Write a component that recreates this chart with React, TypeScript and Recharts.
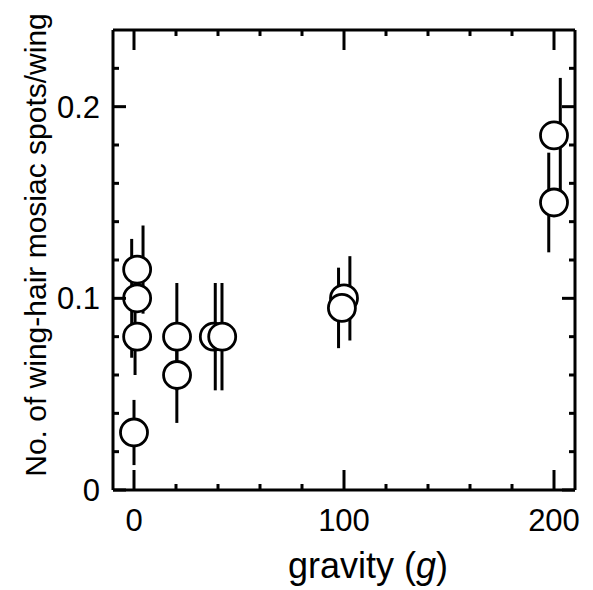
import React from "react";
import { ScatterChart, Scatter, XAxis, YAxis, ErrorBar } from "recharts";

// circles (gravity in g, spots per wing)
const gravity = [0, 1.5, 1.5, 1.5, 20.5, 20.5, 38, 42, 100, 99, 200, 200];
const spots = [0.03, 0.115, 0.1, 0.08, 0.06, 0.08, 0.08, 0.08, 0.1, 0.095, 0.15, 0.185];

// error bars, drawn slightly offset like in the figure
const barX = [0, 4.3, -1.1, 0.5, 20.4, 20.4, 38.7, 41.9, 102.8, 97.4, 197.5, 203];
const barY = [0.03, 0.115, 0.1, 0.08, 0.06, 0.08, 0.08, 0.08, 0.1, 0.095, 0.15, 0.185];
const barErr = [0.017, 0.023, 0.031, 0.02, 0.025, 0.028, 0.028, 0.028, 0.022, 0.021, 0.026, 0.03];

const xTicks = [0, 20, 40, 60, 80, 100, 120, 140, 160, 180, 200];
const xLabels = [0, 100, 200];
const yTicks = [0, 0.02, 0.04, 0.06, 0.08, 0.1, 0.12, 0.14, 0.16, 0.18, 0.2, 0.22];
const yLabels = [0, 0.1, 0.2];

const points = gravity.map((g, i) => ({ g, v: spots[i] }));
const bars = barX.map((g, i) => ({ g, v: barY[i], e: barErr[i] }));

const W = 593;
const H = 590;
const LEFT = 113;
const RIGHT = 575;
const TOP = 30;
const BOTTOM = 490;
const M = { top: TOP - 1, right: W - RIGHT - 1, bottom: H - BOTTOM - 1, left: LEFT - 1 };
const FONT = "'Liberation Sans', Arial, sans-serif";

const XTick = (props: any) => {
  const { x, payload } = props;
  const major = xLabels.includes(payload.value);
  const len = major ? 20 : 6;
  return (
    <g>
      <line x1={x} x2={x} y1={BOTTOM} y2={BOTTOM - len} stroke="#000" strokeWidth={3} />
      <line x1={x} x2={x} y1={TOP} y2={TOP + len} stroke="#000" strokeWidth={3} />
      {major && (
        <text x={x} y={531} textAnchor="middle" fontSize={31} fontFamily={FONT} fill="#000">
          {payload.value}
        </text>
      )}
    </g>
  );
};

const YTick = (props: any) => {
  const { y, payload } = props;
  const major = yLabels.some((v) => Math.abs(v - payload.value) < 1e-9);
  const len = major ? 13 : 6;
  return (
    <g>
      <line x1={LEFT} x2={LEFT + len} y1={y} y2={y} stroke="#000" strokeWidth={3} />
      <line x1={RIGHT} x2={RIGHT - len} y1={y} y2={y} stroke="#000" strokeWidth={3} />
      {major && (
        <text x={100} y={y + 11} textAnchor="end" fontSize={31} fontFamily={FONT} fill="#000">
          {payload.value}
        </text>
      )}
    </g>
  );
};

const Circle = (props: any) => (
  <circle cx={props.cx} cy={props.cy} r={13.5} fill="#fff" stroke="#000" strokeWidth={2.8} />
);

const axisLine = { stroke: "#000", strokeWidth: 3 };

export default function App() {
  return (
    <div style={{ position: "absolute", left: 0, top: 0, width: W, height: H, background: "#fff" }}>
      <ScatterChart width={W} height={H} margin={M}>
        <XAxis
          type="number"
          dataKey="g"
          domain={[-10, 210]}
          ticks={xTicks}
          height={1}
          tickLine={false}
          axisLine={axisLine}
          tick={<XTick />}
          interval={0}
          allowDataOverflow
        />
        <XAxis
          xAxisId="top"
          orientation="top"
          type="number"
          dataKey="g"
          domain={[-10, 210]}
          height={1}
          tick={false}
          tickLine={false}
          axisLine={axisLine}
        />
        <YAxis
          type="number"
          dataKey="v"
          domain={[0, 0.24]}
          ticks={yTicks}
          width={1}
          tickLine={false}
          axisLine={axisLine}
          tick={<YTick />}
          interval={0}
          allowDataOverflow
        />
        <YAxis
          yAxisId="right"
          orientation="right"
          type="number"
          dataKey="v"
          domain={[0, 0.24]}
          width={1}
          tick={false}
          tickLine={false}
          axisLine={axisLine}
        />
        <Scatter data={bars} shape={() => <g />} isAnimationActive={false}>
          <ErrorBar dataKey="e" direction="y" width={0} stroke="#000" strokeWidth={3} isAnimationActive={false} />
        </Scatter>
        <Scatter data={points} shape={<Circle />} isAnimationActive={false} />
        <text
          x={46}
          y={245}
          transform="rotate(-90 46 245)"
          textAnchor="middle"
          fontSize={30}
          fontFamily={FONT}
          fill="#000"
        >
          No. of wing-hair mosiac spots/wing
        </text>
        <text x={368} y={578} textAnchor="middle" fontSize={36} fontFamily={FONT} fill="#000">
          gravity (<tspan fontStyle="italic">g</tspan>)
        </text>
      </ScatterChart>
    </div>
  );
}
